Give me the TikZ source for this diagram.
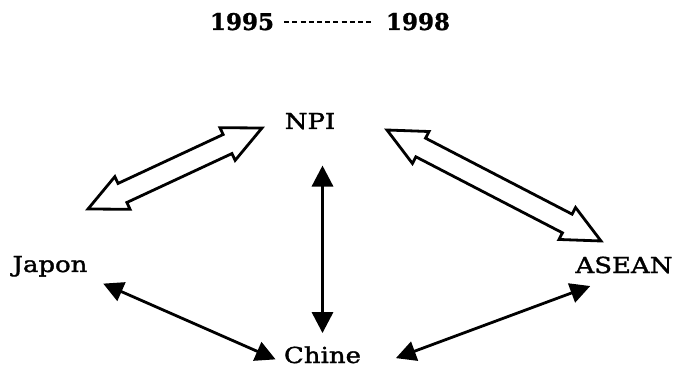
\documentclass[tikz,border=0pt]{standalone}
\usepackage{fontspec}
\setmainfont{DejaVu Serif}
\newfontfamily\widefont[FakeStretch=1.18, FakeBold=1.6]{DejaVu Serif}
\newfontfamily\yearfont[FakeBold=1.2]{DejaVu Serif Bold}
\usetikzlibrary{arrows.meta,calc}
\begin{document}
\begin{tikzpicture}[x=1pt,y=-1pt,
  lbl/.style={inner sep=0pt, anchor=base, font=\widefont\fontsize{22}{26}\selectfont},
  yr/.style={inner sep=0pt, anchor=base, font=\yearfont\fontsize{23}{27}\selectfont},
  fa/.style={line width=3.2pt, {Triangle[length=21pt,width=21pt]}-{Triangle[length=21pt,width=21pt]}},
  da/.style={line width=2.8pt, {Triangle[length=20pt,width=20pt]}-{Triangle[length=20pt,width=20pt]}},
  titledash/.style={line width=2.2pt, dash pattern=on 5pt off 3.2pt},
  hollow/.style={draw, line width=2.8pt, fill=white,
    to path={let \p1=(\tikztostart), \p2=(\tikztotarget),
      \n1={atan2(\y2-\y1,\x2-\x1)}, \n2={veclen(\x2-\x1,\y2-\y1)} in
      {[shift={(\p1)}, rotate=\n1, x=1pt, y=1pt]
       (0,0) -- (38,18) -- (38,10.5) -- (\n2-38,10.5) -- (\n2-38,18) -- (\n2,0)
       -- (\n2-38,-18) -- (\n2-38,-10.5) -- (38,-10.5) -- (38,-18) -- cycle}}}
]
\path[use as bounding box, fill=white] (0,0) rectangle (677,371);

% title
\node[yr] (y95) at (242,30) {1995};
\node[yr] (y98) at (418,30) {1998};
\draw[titledash, shorten <=10pt, shorten >=13pt]
  ([yshift=8pt]y95.base east) -- ([yshift=8pt]y98.base west);

% labels
\node[lbl] (npi)   at (310,129) {NPI};
\node[lbl] (japon) at (50,272)  {Japon};
\node[lbl] (asean) at (624,273) {ASEAN};
\node[lbl] (chine) at (322.5,363) {Chine};

% hollow double arrows
\coordinate (h1a) at (88,209);
\coordinate (h1b) at (262,128);
\coordinate (h2a) at (387,130);
\coordinate (h2b) at (601,241);
\draw[hollow] (h1a) to (h1b);
\draw[hollow] (h2a) to (h2b);

% filled double arrows
\draw[fa, shorten <=13pt, shorten >=36pt] (chine.north) -- (chine.north |- npi.south);
\draw[da, shorten <=17pt, shorten >=9pt] (japon.south east) -- (chine.base west);
\draw[da, shorten <=37pt, shorten >=36pt] ([yshift=-8pt]chine.base east) -- (asean.south);
\end{tikzpicture}
\end{document}
